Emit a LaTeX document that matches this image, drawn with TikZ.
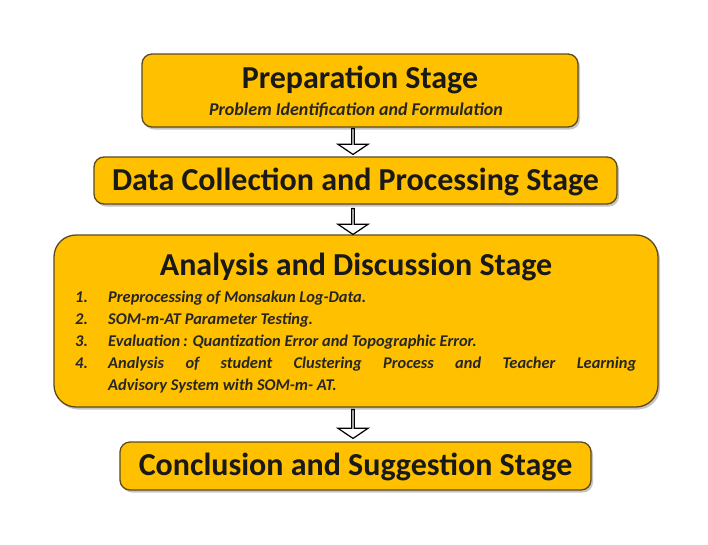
\documentclass[tikz,border=0pt]{standalone}
\usepackage{fontspec}
\setmainfont{Carlito}
\usetikzlibrary{shapes.arrows,shadows}
\definecolor{gold}{HTML}{FFC000}
\definecolor{edge}{HTML}{5C4A1E}
\tikzset{
  stagebox/.style={draw=edge, line width=1.3pt, fill=gold, rounded corners=#1,
    drop shadow={shadow xshift=2pt, shadow yshift=-2.5pt, fill=black!45, opacity=0.5},
    inner sep=0pt, font=\bfseries},
  stagebox/.default=10pt,
  downarrow/.style={single arrow, draw=black, fill=white, line width=1.2pt,
    shape border rotate=270, minimum width=30pt, single arrow head extend=6.5pt,
    inner sep=0pt, minimum height=#1, single arrow tip angle=112},
  title/.style={font=\fontsize{32}{36}\selectfont\bfseries, text=black!90},
  subtitle/.style={font=\fontsize{18}{20}\selectfont\bfseries\itshape, text=black!85},
  item/.style={font=\fontsize{16.4}{22}\selectfont\bfseries\itshape, text=black!85}
}
\begin{document}
\begin{tikzpicture}[x=1pt,y=-1pt]
\useasboundingbox (0,0) rectangle (708,544);
% boxes
\node[stagebox, minimum width=436pt, minimum height=73pt] (b1) at (360,90.5) {};
\node[stagebox, minimum width=523pt, minimum height=47pt] (b2) at (355.5,180.5) {};
\node[stagebox=22pt, minimum width=604pt, minimum height=172pt] (b3) at (356,321) {};
\node[stagebox, minimum width=471pt, minimum height=48pt] (b4) at (355.5,466) {};
% texts
\node[title] (t1) at (360,80) {Preparation Stage};
\node[subtitle] (s1) at (356,110) {Problem Identification and Formulation};
\node[title] (t2) at (355.5,182) {Data Collection and Processing Stage};
\node[title] (t3) at (356,267) {Analysis and Discussion Stage};
\node[title] (t4) at (355.5,467) {Conclusion and Suggestion Stage};
% list
\node[item, anchor=base west, inner sep=0pt] (n1) at (75,302) {1.};
\node[item, anchor=base west, inner sep=0pt] (n2) at (75,324) {2.};
\node[item, anchor=base west, inner sep=0pt] (n3) at (75,346) {3.};
\node[item, anchor=base west, inner sep=0pt] (n4) at (75,368) {4.};
\node[item, anchor=base west, inner sep=0pt] (i1) at (108,302) {Preprocessing of Monsakun Log-Data.};
\node[item, anchor=base west, inner sep=0pt] (i2) at (108,324) {SOM-m-AT Parameter Testing.};
\node[item, anchor=base west, inner sep=0pt] (i3) at (108,346) {Evaluation\,: Quantization Error and Topographic Error.};
\node[item, anchor=base west, inner sep=0pt, text width=528pt, align=justify] (i4) at (108,368)
  {Analysis of student Clustering Process and Teacher Learning\linebreak Advisory System with \mbox{SOM-m-} AT.};
% arrows
\node[downarrow=26pt] (a1) at (353,141) {};
\node[downarrow=26pt] (a2) at (353,221) {};
\node[downarrow=29pt] (a3) at (353,423.5) {};
\end{tikzpicture}
\end{document}
